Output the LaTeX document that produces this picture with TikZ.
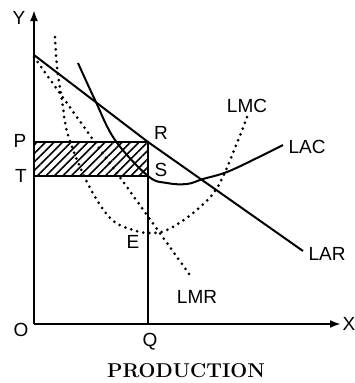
\documentclass[tikz,border=0pt]{standalone}
\usepackage{fontspec}
\setsansfont{Liberation Sans}
\usetikzlibrary{arrows.meta,patterns.meta}
\tikzset{
  etiq/.style={font=\sffamily\fontsize{19}{19}\selectfont, inner sep=0pt},
  curva/.style={line width=2pt},
  punteada/.style={line width=3pt, line cap=round, dash pattern=on 0pt off 6.2pt},
}
\begin{document}
\begin{tikzpicture}[x=1pt,y=-1pt]
        \useasboundingbox (0,0) rectangle (355,383);

        % Puntos principales
        \coordinate (O) at (34,324);
        \coordinate (Ytip) at (34,10);
        \coordinate (Xtip) at (341,324);
        \coordinate (P) at (34,142);
        \coordinate (R) at (148,142);
        \coordinate (T) at (34,176);
        \coordinate (S) at (148,176);
        \coordinate (Q) at (148,324);

        % Area sombreada PRST
        \fill[pattern={Lines[angle=45,distance=6pt,line width=1.6pt]}] (P) rectangle (S);
        \draw[curva] (P) -- (R) -- (Q);
        \draw[curva] (T) -- (S);

        % Ejes coordenados
        \draw[curva, -{Latex[length=11pt,width=8pt]}] (O) -- (Ytip);
        \draw[curva, -{Latex[length=11pt,width=8pt]}] (O) -- (Xtip);

        % Curvas de ingreso y coste
        \draw[curva] (34,55) -- (R) -- (303,251);
        \draw[punteada] (34,57) -- (192,278);
        \draw[punteada] plot[smooth, tension=0.6] coordinates {(55,37) (57,67) (62,100) (68,135)
            (87,182) (110,218) (133,230) (150,233) (167,230) (193,213) (217,188) (237,143) (247,117)};
        \draw[curva] plot[smooth, tension=0.6] coordinates {(78,63) (95,100) (115,140) (148,176)
            (167,183) (187,184) (203,179) (227,172) (257,158) (283,145)};

        % Etiquetas
        \node[etiq] (lY) at (19,18) {Y};
        \node[etiq] (lX) at (349,324) {X};
        \node[etiq] (lO) at (21,330) {O};
        \node[etiq] (lQ) at (150,342) {Q};
        \node[etiq] (lP) at (20,141) {P};
        \node[etiq] (lT) at (21,176) {T};
        \node[etiq] (lR) at (161,133) {R};
        \node[etiq] (lS) at (161,170) {S};
        \node[etiq] (lE) at (133,242) {E};
        \node[etiq] (lLMC) at (247,106) {LMC};
        \node[etiq] (lLAC) at (307,147) {LAC};
        \node[etiq] (lLAR) at (327,254) {LAR};
        \node[etiq] (lLMR) at (197,297) {LMR};
        \node[font=\bfseries\fontsize{20}{20}\selectfont, inner sep=0pt] (lProd) at (186,371) {PRODUCTION};
    \end{tikzpicture}
\end{document}
